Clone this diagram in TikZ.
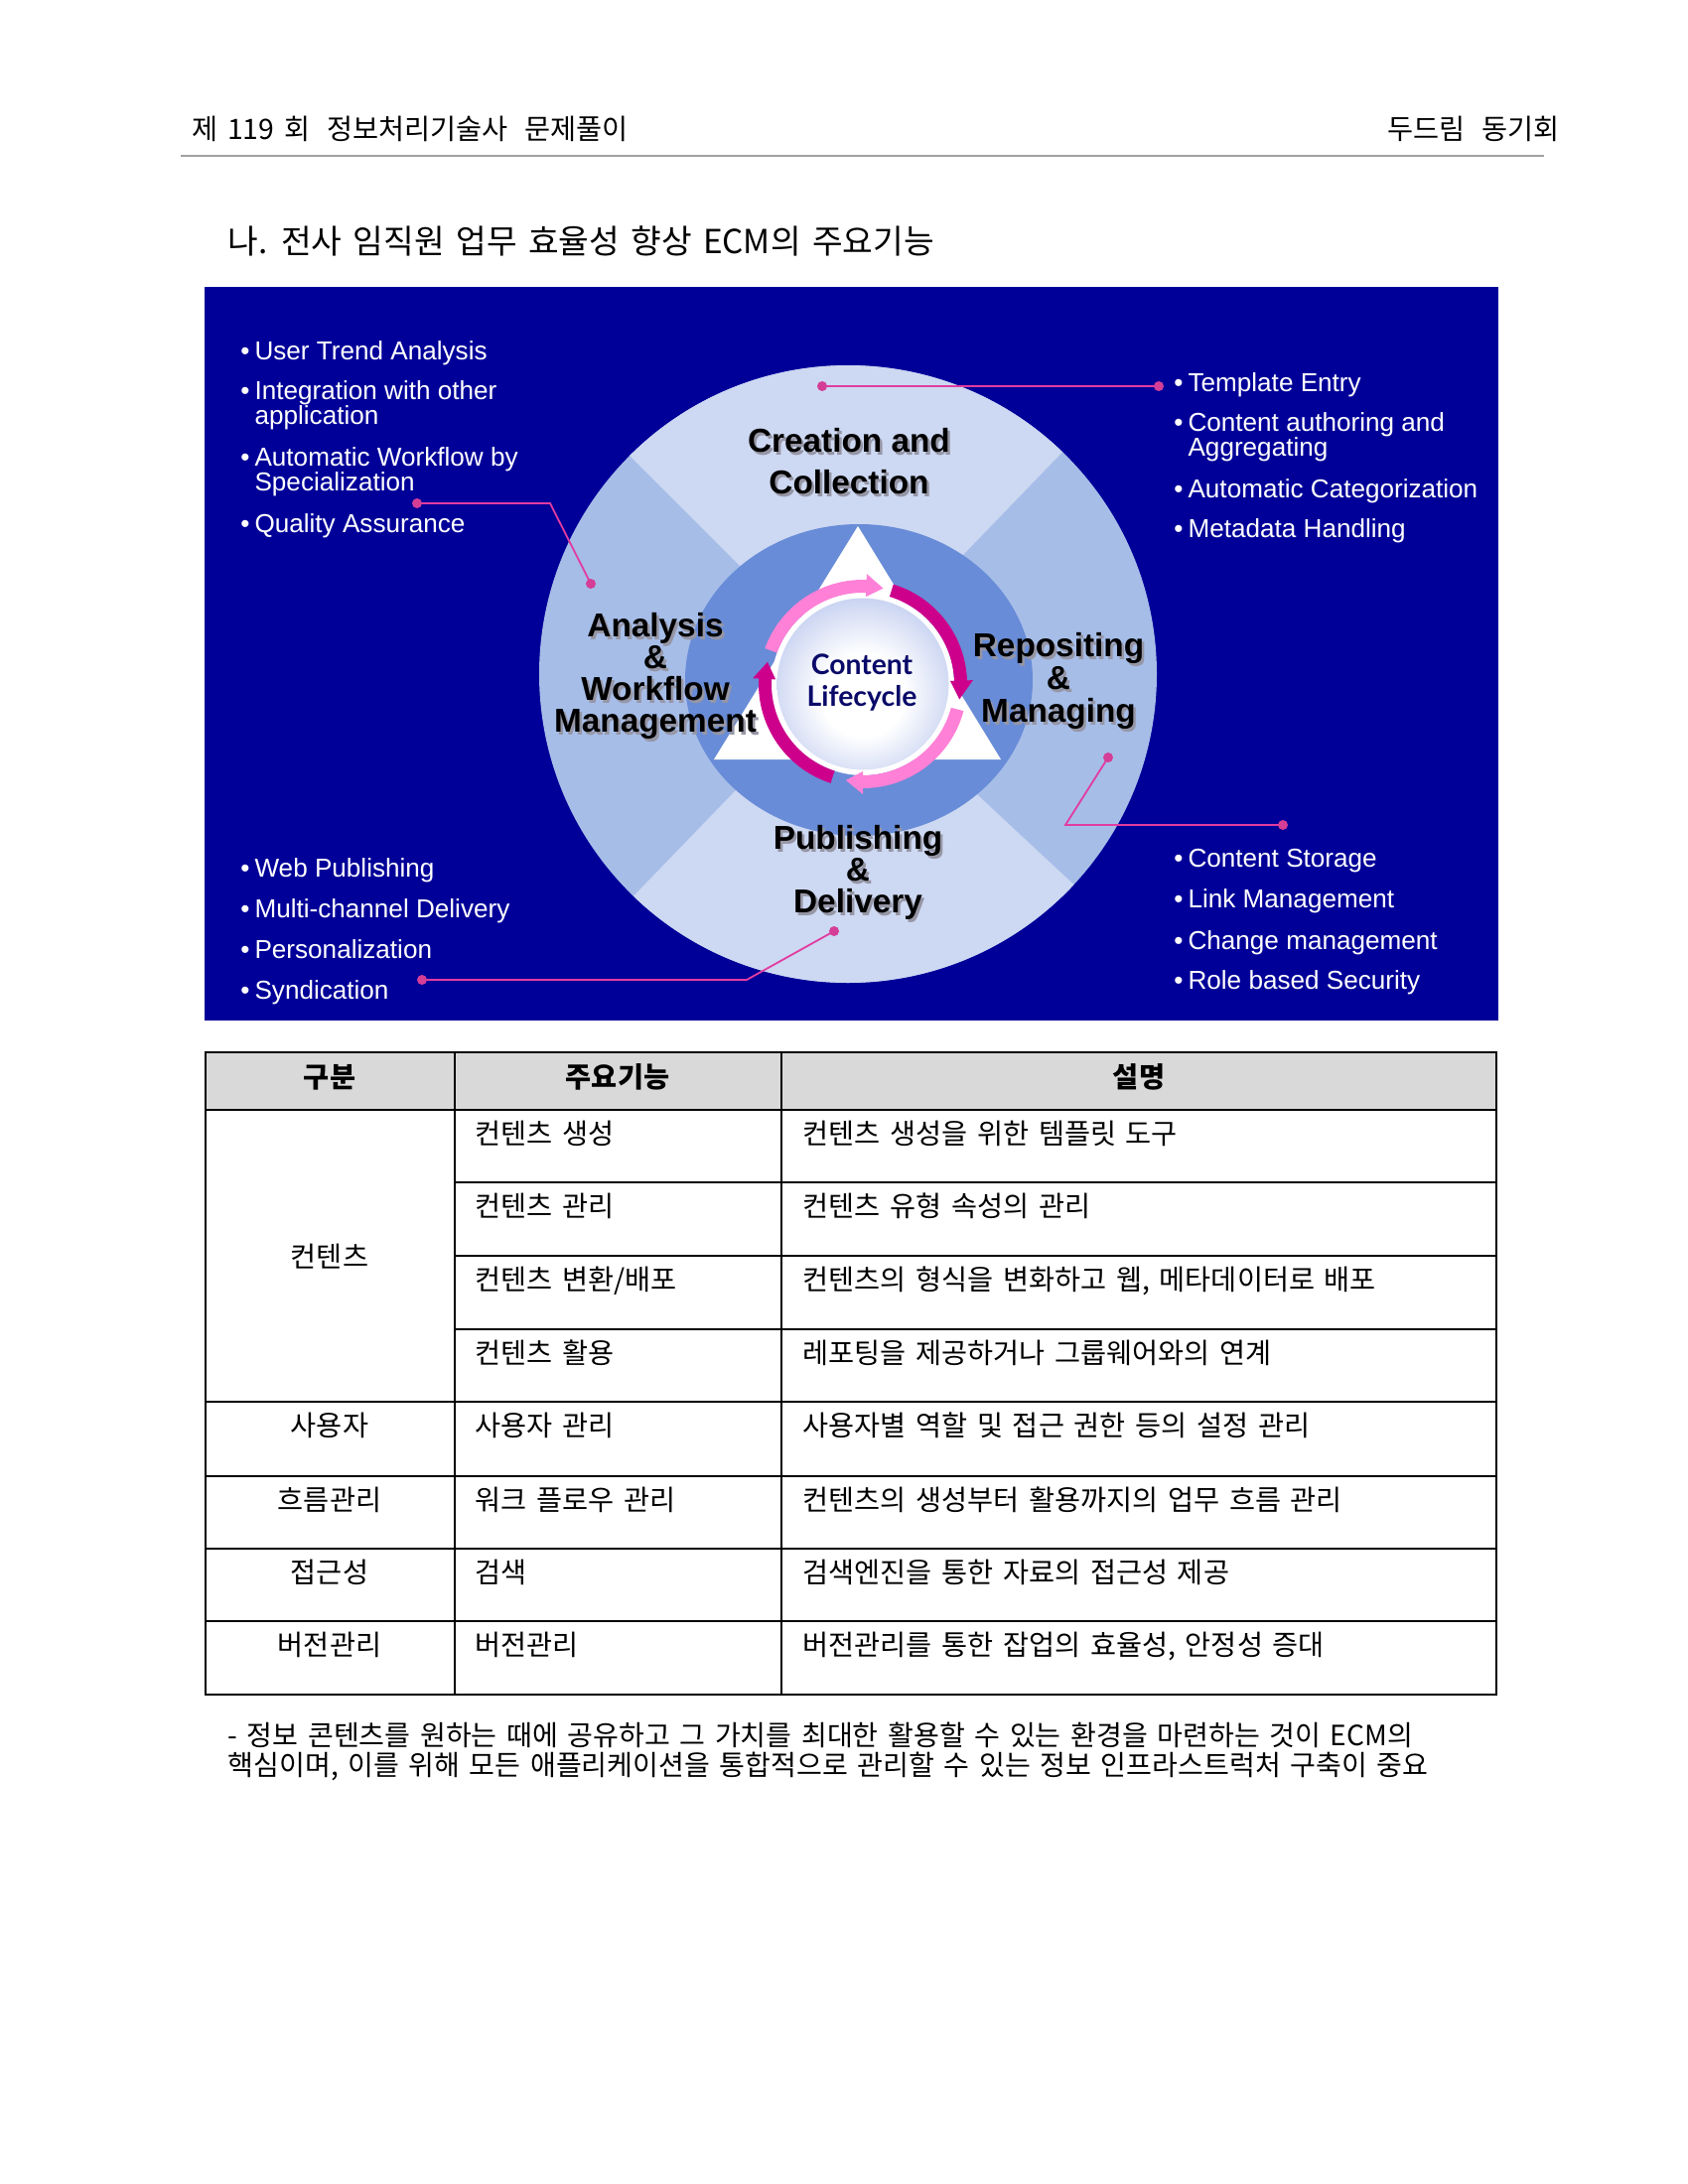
\documentclass[tikz,border=0pt]{standalone}
\usepackage{fontspec}
\setmainfont{Liberation Sans}
\newfontfamily\kr[WordSpace=1.52]{Noto Sans CJK KR}
\newfontfamily\lcf{Lato}
\definecolor{bgblue}{RGB}{0,0,153}
\definecolor{sideblue}{RGB}{166,189,232}
\definecolor{lightblue}{RGB}{205,216,242}
\definecolor{innerblue}{RGB}{104,140,215}
\definecolor{lcedge}{RGB}{125,150,222}
\definecolor{lcnavy}{RGB}{10,10,105}
\definecolor{lpink}{RGB}{255,128,215}
\definecolor{magen}{RGB}{205,0,140}
\definecolor{leadpink}{RGB}{225,60,160}
\definecolor{dotpink}{RGB}{212,62,150}
\definecolor{shgray}{RGB}{150,150,165}
\definecolor{rulegray}{RGB}{160,160,160}
\definecolor{hdrgray}{RGB}{217,217,217}
\pgfdeclareradialshading{lcshade}{\pgfpoint{0bp}{-4bp}}{color(0bp)=(white); color(12bp)=(white); color(50bp)=(lcedge); color(62bp)=(lcedge)}
\newcommand\arcband[4]{%
  \fill[#1] (#2:92) arc[start angle=#2, end angle=#3, radius=92] -- (#3:88) -- (#4:98.5) -- (#3:111) -- (#3:105) arc[start angle=#3, end angle=#2, radius=105] -- cycle;}
\begin{document}
\begin{tikzpicture}[x=0.36pt,y=0.36pt,
  krtext/.style={font=\kr\fontsize{10.2}{12}\selectfont, inner sep=0pt, text=black},
  krhead/.style={font=\kr\bfseries\fontsize{10.2}{12}\selectfont, inner sep=0pt, anchor=base},
  itemtxt/.style={font=\fontsize{9.4}{9}\selectfont, text=white, anchor=north west, inner sep=0pt, align=left},
  lbl/.style={font=\fontsize{12}{#1}\selectfont\bfseries, align=center, anchor=north, inner sep=0pt},
  leader/.style={draw=leadpink, line width=0.65pt},
  tline/.style={draw=black, line width=0.9pt}]
\useasboundingbox (0,0) rectangle (1700,-2200);
\fill[white] (0,0) rectangle (1700,-2200);

% page header
\node[krtext, anchor=base west] (hdl) at (193,-141) {제 119 회\hspace{2.6pt} 정보처리기술사\hspace{2.6pt} 문제풀이};
\node[krtext, anchor=base east] (hdr) at (1571,-141) {두드림\hspace{2.6pt} 동기회};
\draw[rulegray, line width=0.55pt] (182,-157) -- (1555,-157);
\node[krtext, font=\kr\fontsize{12}{14}\selectfont, anchor=base west] (title) at (229,-256) {나. 전사 임직원 업무 효율성 향상 ECM의 주요기능};

% diagram background and circle
\fill[bgblue] (206,-289) rectangle (1509,-1028);
\fill[sideblue] (854,-679) circle[radius=311];
\fill[lightblue] (854,-679) -- ++(46:311) arc[start angle=46,end angle=135,radius=311] -- cycle;
\fill[lightblue] (854,-679) -- ++(226:311) arc[start angle=226,end angle=317,radius=311] -- cycle;
\fill[innerblue] (865,-685) ellipse[x radius=175,y radius=157];
\fill[white] (864,-530) -- (719,-765) -- (1008,-765) -- cycle;
\begin{scope}[shift={(869,-689)}]
  \fill[white] (0,0) circle[radius=92];
  \shade[shading=lcshade] (0,0) circle[radius=86.5];
  \arcband{lpink}{160}{88}{78}
  \arcband{magen}{73}{2}{-9}
  \arcband{lpink}{-15}{-90}{-100}
  \arcband{magen}{252}{177}{167}
\end{scope}
\node[font=\lcf\bfseries\fontsize{10.2}{11.5}\selectfont, text=lcnavy, align=center, anchor=north, inner sep=0pt] (lc) at (868,-658) {Content\\Lifecycle};

% sector labels with shadow
\node[lbl=15.1pt, text=shgray] (ccs) at (857.5,-433.5) {Creation and\\Collection};
\node[lbl=15.1pt] (cc) at (855,-431) {Creation and\\Collection};
\node[lbl=11.5pt, text=shgray] (aws) at (662.5,-619.5) {Analysis\\\&\\Workflow\\Management};
\node[lbl=11.5pt] (aw) at (660,-617) {Analysis\\\&\\Workflow\\Management};
\node[lbl=11.9pt, text=shgray] (rms) at (1068.5,-639.5) {Repositing\\\&\\Managing};
\node[lbl=11.9pt] (rm) at (1066,-637) {Repositing\\\&\\Managing};
\node[lbl=11.5pt, text=shgray] (pds) at (866.5,-833.5) {Publishing\\\&\\Delivery};
\node[lbl=11.5pt] (pd) at (864,-831) {Publishing\\\&\\Delivery};

% bullet lists
\newcommand\bl{\llap{\textbullet\hspace{1.8pt}}}
\node[itemtxt] (a1) at (256,-343) {\bl User Trend Analysis};
\node[itemtxt] (a2) at (256,-383) {\bl Integration with other\\application};
\node[itemtxt] (a3) at (256,-450) {\bl Automatic Workflow by\\Specialization};
\node[itemtxt] (a4) at (256,-517) {\bl Quality Assurance};
\node[itemtxt] (c1) at (1196,-375) {\bl Template Entry};
\node[itemtxt] (c2) at (1196,-415) {\bl Content authoring and\\Aggregating};
\node[itemtxt] (c3) at (1196,-482) {\bl Automatic Categorization};
\node[itemtxt] (c4) at (1196,-522) {\bl Metadata Handling};
\node[itemtxt] (p1) at (256,-864) {\bl Web Publishing};
\node[itemtxt] (p2) at (256,-905) {\bl Multi-channel Delivery};
\node[itemtxt] (p3) at (256,-946) {\bl Personalization};
\node[itemtxt] (p4) at (256,-987) {\bl Syndication};
\node[itemtxt] (r1) at (1196,-855) {\bl Content Storage};
\node[itemtxt] (r2) at (1196,-895) {\bl Link Management};
\node[itemtxt] (r3) at (1196,-937) {\bl Change management};
\node[itemtxt] (r4) at (1196,-977) {\bl Role based Security};

% leader lines
\coordinate (l1a) at (828,-389); \coordinate (l1b) at (1167,-389);
\coordinate (l2a) at (420,-507); \coordinate (l2m) at (554,-507); \coordinate (l2b) at (595,-588);
\coordinate (l3a) at (1116,-763); \coordinate (l3m) at (1073,-831); \coordinate (l3b) at (1292,-831);
\coordinate (l4a) at (840,-938); \coordinate (l4m) at (752,-987); \coordinate (l4b) at (425,-987);
\draw[leader] (l1a) -- (l1b);
\draw[leader] (l2a) -- (l2m) -- (l2b);
\draw[leader] (l3a) -- (l3m) -- (l3b);
\draw[leader] (l4a) -- (l4m) -- (l4b);
\foreach \p in {l1a,l1b,l2a,l2b,l3a,l3b,l4a,l4b} \fill[dotpink] (\p) circle[radius=5];

% table
\fill[hdrgray] (207,-1060) rectangle (1507,-1118);
\foreach \yy in {1118,1412,1487,1560,1633} \draw[tline] (207,-\yy) -- (1507,-\yy);
\foreach \yy in {1191,1265,1339} \draw[tline] (458,-\yy) -- (1507,-\yy);
\foreach \xx in {458,787} \draw[tline] (\xx,-1060) -- (\xx,-1707);
\draw[tline] (207,-1060) rectangle (1507,-1707);

\node[krhead] (th1) at (332,-1095) {구분};
\node[krhead] (th2) at (622,-1095) {주요기능};
\node[krhead] (th3) at (1147,-1095) {설명};

\node[krtext, anchor=base] (g1) at (332,-1276) {컨텐츠};
\node[krtext, anchor=base] (g2) at (332,-1446) {사용자};
\node[krtext, anchor=base] (g3) at (332,-1521) {흐름관리};
\node[krtext, anchor=base] (g4) at (332,-1594) {접근성};
\node[krtext, anchor=base] (g5) at (332,-1667) {버전관리};

\node[krtext, anchor=base west] (f1) at (478,-1152) {컨텐츠 생성};
\node[krtext, anchor=base west] (f2) at (478,-1225) {컨텐츠 관리};
\node[krtext, anchor=base west] (f3) at (478,-1299) {컨텐츠 변환/배포};
\node[krtext, anchor=base west] (f4) at (478,-1373) {컨텐츠 활용};
\node[krtext, anchor=base west] (f5) at (478,-1446) {사용자 관리};
\node[krtext, anchor=base west] (f6) at (478,-1521) {워크 플로우 관리};
\node[krtext, anchor=base west] (f7) at (478,-1594) {검색};
\node[krtext, anchor=base west] (f8) at (478,-1667) {버전관리};

\node[krtext, anchor=base west] (d1) at (808,-1152) {컨텐츠 생성을 위한 템플릿 도구};
\node[krtext, anchor=base west] (d2) at (808,-1225) {컨텐츠 유형 속성의 관리};
\node[krtext, anchor=base west] (d3) at (808,-1299) {컨텐츠의 형식을 변화하고 웹, 메타데이터로 배포};
\node[krtext, anchor=base west] (d4) at (808,-1373) {레포팅을 제공하거나 그룹웨어와의 연계};
\node[krtext, anchor=base west] (d5) at (808,-1446) {사용자별 역할 및 접근 권한 등의 설정 관리};
\node[krtext, anchor=base west] (d6) at (808,-1521) {컨텐츠의 생성부터 활용까지의 업무 흐름 관리};
\node[krtext, anchor=base west] (d7) at (808,-1594) {검색엔진을 통한 자료의 접근성 제공};
\node[krtext, anchor=base west] (d8) at (808,-1667) {버전관리를 통한 잡업의 효율성, 안정성 증대};

% footnote
\node[krtext, font=\kr\fontsize{10.12}{12}\selectfont, anchor=base west] (fn1) at (229,-1758) {- 정보 콘텐츠를 원하는 때에 공유하고 그 가치를 최대한 활용할 수 있는 환경을 마련하는 것이 ECM의};
\node[krtext, font=\kr\fontsize{10.12}{12}\selectfont, anchor=base west] (fn2) at (229,-1788) {핵심이며, 이를 위해 모든 애플리케이션을 통합적으로 관리할 수 있는 정보 인프라스트럭처 구축이 중요};
\end{tikzpicture}
\end{document}
